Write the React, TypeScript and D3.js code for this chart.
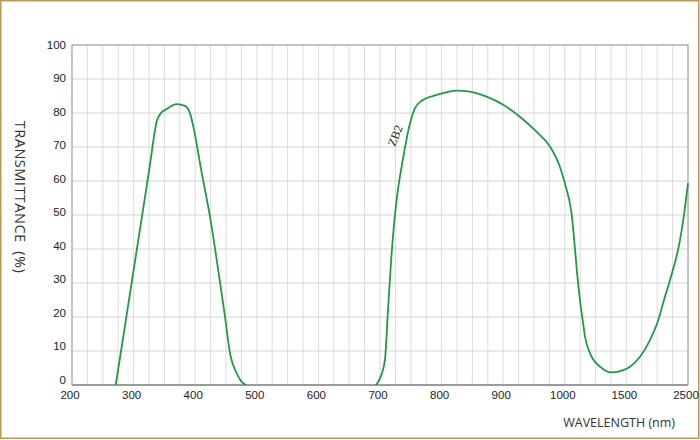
import React from "react";
import * as d3 from "d3";

// Piecewise wavelength axis (nm)
const xTickValues = [200, 300, 400, 500, 600, 700, 800, 900, 1000, 1500, 2500];
const yTickValues = [0, 10, 20, 30, 40, 50, 60, 70, 80, 90, 100];

// UV band of ZB2
const uvWavelength = [271, 290, 310, 325, 338, 344, 353.7, 370, 383.4, 391.6, 397, 410, 424, 436, 448.4, 456.5, 467.4, 475, 482];
const uvTransmittance = [0, 22.1, 45.4, 62.9, 77.8, 79.9, 81.2, 82.6, 82.1, 79.9, 76, 63, 49.5, 35.5, 20.1, 9.3, 3.4, 1, 0];

// Visible/IR band of ZB2
const irWavelength = [693.5, 700, 708, 713, 717.9, 722.7, 727, 738, 748.7, 756.8, 767.7, 792, 824.5, 846, 873, 900, 927, 954, 976, 992, 1015, 1036, 1054, 1075, 1099, 1123, 1145, 1164, 1205, 1286, 1381, 1475, 1558, 1721, 1883, 2018, 2110, 2208, 2370, 2435, 2500];
const irTransmittance = [0, 2, 7.4, 22.1, 36.2, 47.1, 54.5, 67.2, 77, 81.4, 83.6, 85.3, 86.6, 86.3, 84.8, 82.4, 78.9, 74.5, 70.1, 64.2, 57.4, 54.4, 50.6, 43.2, 33.2, 25, 19.1, 14.2, 9.3, 5.4, 3.7, 4.4, 5.4, 8.3, 13.2, 19.1, 25, 30.9, 42.6, 50, 59.4];

const W = 700;
const H = 440;
const left = 72;
const right = 688;
const top = 45;
const bottom = 385;

export default function App() {
  const xRange = xTickValues.map((_, i) => left + ((right - left) * i) / (xTickValues.length - 1));
  const x = d3.scaleLinear().domain(xTickValues).range(xRange);
  const y = d3.scaleLinear().domain([0, 100]).range([bottom, top]);

  // minor vertical grid: 4 per segment
  const vGrid: number[] = [];
  for (let i = 0; i < xRange.length - 1; i++) {
    for (let k = 0; k < 4; k++) vGrid.push(xRange[i] + ((xRange[i + 1] - xRange[i]) * k) / 4);
  }
  vGrid.push(xRange[xRange.length - 1]);

  const line = d3
    .line<[number, number]>()
    .x((d) => x(d[0]))
    .y((d) => y(d[1]))
    .curve(d3.curveMonotoneX);

  const uv = uvWavelength.map((w, i) => [w, uvTransmittance[i]] as [number, number]);
  const ir = irWavelength.map((w, i) => [w, irTransmittance[i]] as [number, number]);

  const green = "#23984a";

  return (
    <svg width={W} height={H} style={{ position: "absolute", left: 0, top: 0, background: "#fff" }}>
      <rect x={0.75} y={0.75} width={W - 2} height={H - 2.5} fill="#fff" stroke="#b8995a" strokeWidth={1.5} />
      {/* grid */}
      {vGrid.map((gx, i) => (
        <line key={"v" + i} x1={gx} x2={gx} y1={top} y2={bottom} stroke="#dcdcdc" strokeWidth={1} />
      ))}
      {yTickValues.map((t) => (
        <line key={"h" + t} x1={left} x2={right} y1={y(t)} y2={y(t)} stroke="#d4d4d4" strokeWidth={1} />
      ))}
      {/* frame */}
      <rect x={left} y={top} width={right - left} height={bottom - top} fill="none" stroke="#aaaaaa" strokeWidth={1.2} />
      <line x1={left} x2={right} y1={bottom} y2={bottom} stroke="#9a9a9a" strokeWidth={2} />
      {/* curves */}
      <path d={line(uv) || ""} fill="none" stroke={green} strokeWidth={1.8} />
      <path d={line(ir) || ""} fill="none" stroke={green} strokeWidth={1.8} />
      {/* y tick labels */}
      {yTickValues.map((t) => (
        <text key={"yl" + t} x={66} y={y(t) - 1 + (4.5 * t) / 100} textAnchor="end" fontFamily="Liberation Sans, Arial, sans-serif" fontSize={11.5} fill="#222">
          {t}
        </text>
      ))}
      {/* x tick labels */}
      {xTickValues.map((t) => (
        <text key={"xl" + t} x={x(t) - 2} y={398.5} textAnchor="middle" fontFamily="Liberation Sans, Arial, sans-serif" fontSize={11.5} fill="#222">
          {t}
        </text>
      ))}
      {/* axis titles */}
      <text
        transform={`translate(15,197) rotate(90)`}
        textAnchor="middle"
        fontFamily="Open Sans, sans-serif"
        fontSize={14.5}
        letterSpacing={0.5}
        fill="#333"
        style={{ whiteSpace: "pre" }}
      >
        {"TRANSMITTANCE  (%)"}
      </text>
      <text x={675} y={427} textAnchor="end" fontFamily="Open Sans, sans-serif" fontSize={12.5} fill="#333">
        WAVELENGTH (nm)
      </text>
      {/* curve label */}
      <text
        transform={`translate(396.5,136) rotate(-68)`}
        textAnchor="middle"
        dominantBaseline="middle"
        fontFamily="Liberation Serif, Times New Roman, serif"
        fontSize={12}
        fill="#222"
      >
        ZB2
      </text>
    </svg>
  );
}
